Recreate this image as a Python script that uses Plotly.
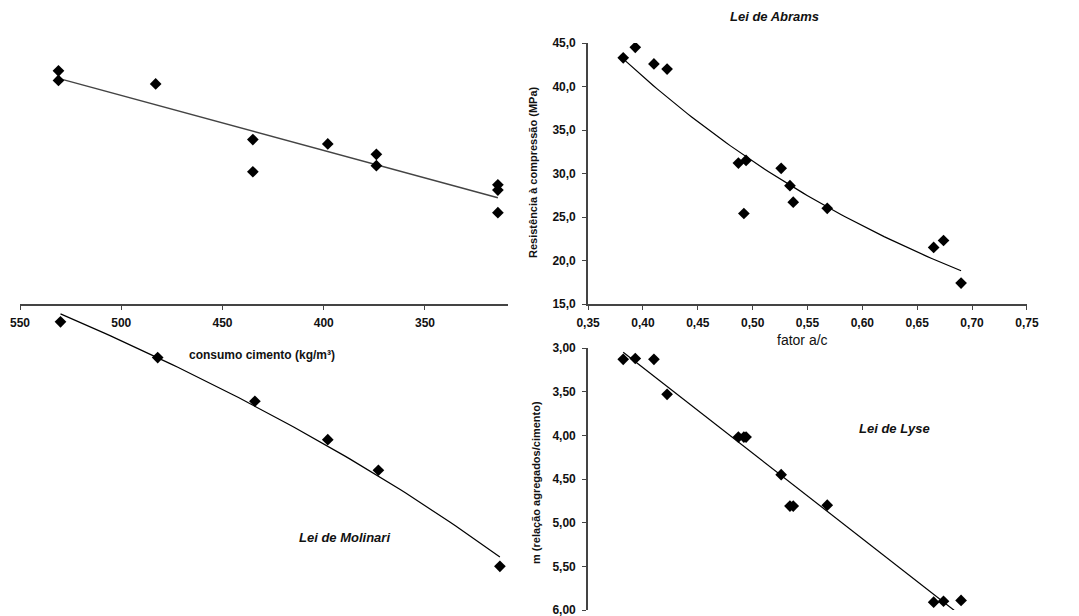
import numpy as np
import plotly.graph_objects as go

# ---------------- data ----------------
fator_ac = [0.382, 0.393, 0.410, 0.422, 0.487, 0.492, 0.494, 0.526, 0.534, 0.537, 0.568, 0.665, 0.674, 0.690]
resistencia_abrams = [43.3, 44.5, 42.6, 42.0, 31.2, 25.4, 31.5, 30.6, 28.6, 26.7, 26.0, 21.5, 22.3, 17.4]
m_lyse = [3.13, 3.12, 3.13, 3.53, 4.02, 4.02, 4.02, 4.45, 4.81, 4.81, 4.80, 5.91, 5.90, 5.89]

consumo_res = [531, 531, 483, 435, 435, 398, 374, 374, 314, 314, 314]
resistencia_consumo = [41.8, 40.7, 40.3, 33.9, 30.2, 33.4, 32.2, 30.9, 28.7, 28.1, 25.5]

consumo_molinari = [530, 482, 434, 398, 373, 313]
m_molinari = [2.70, 3.11, 3.61, 4.05, 4.40, 5.50]

# ---------------- trend lines (regressions on the data) ----------------
ac = np.array(fator_ac)
b_ab, a_ab = np.polyfit(ac, np.log(resistencia_abrams), 1)
ac_line = np.linspace(ac.min(), ac.max(), 80)
fc_line = np.exp(a_ab + b_ab * ac_line)

b_ly, a_ly = np.polyfit(ac, np.array(m_lyse), 1)
m_ly_line = a_ly + b_ly * ac_line

c_res = np.array(consumo_res, dtype=float)
b_cr, a_cr = np.polyfit(c_res, np.array(resistencia_consumo), 1)
c_res_line = np.linspace(c_res.min(), c_res.max(), 40)
fc_c_line = a_cr + b_cr * c_res_line

c_mol = np.array(consumo_molinari, dtype=float)
b_mo, a_mo = np.polyfit(np.log(c_mol), np.array(m_molinari), 1)
c_mol_line = np.linspace(c_mol.min(), c_mol.max(), 80)
m_mo_line = a_mo + b_mo * np.log(c_mol_line)

# ---------------- layout helpers ----------------
W, H = 1079, 616
def fx(px):
    return px / W
def fy(py):
    return 1 - py / H

FONT = "Liberation Sans, Arial, sans-serif"
tickfont = dict(family=FONT, size=12, color="#111", weight="bold")
marker = dict(symbol="diamond", size=9, color="black")

fig = go.Figure()

# top-left: resistência x consumo
fig.add_trace(go.Scatter(x=c_res_line, y=fc_c_line, mode="lines",
                         line=dict(color="#444", width=1.5), xaxis="x", yaxis="y", showlegend=False))
fig.add_trace(go.Scatter(x=consumo_res, y=resistencia_consumo, mode="markers",
                         marker=marker, xaxis="x", yaxis="y", showlegend=False))

# top-right: Lei de Abrams
fig.add_trace(go.Scatter(x=ac_line, y=fc_line, mode="lines",
                         line=dict(color="black", width=1.2), xaxis="x2", yaxis="y", showlegend=False))
fig.add_trace(go.Scatter(x=fator_ac, y=resistencia_abrams, mode="markers",
                         marker=marker, xaxis="x2", yaxis="y", showlegend=False))

# bottom-right: Lei de Lyse
fig.add_trace(go.Scatter(x=ac_line, y=m_ly_line, mode="lines",
                         line=dict(color="black", width=1.2), xaxis="x2", yaxis="y2", showlegend=False))
fig.add_trace(go.Scatter(x=fator_ac, y=m_lyse, mode="markers",
                         marker=marker, xaxis="x2", yaxis="y2", showlegend=False))

# bottom-left: Lei de Molinari
fig.add_trace(go.Scatter(x=c_mol_line, y=m_mo_line, mode="lines",
                         line=dict(color="black", width=1.2), xaxis="x", yaxis="y3", showlegend=False))
fig.add_trace(go.Scatter(x=consumo_molinari, y=m_molinari, mode="markers",
                         marker=marker, xaxis="x", yaxis="y3", showlegend=False))

axis_common = dict(showgrid=False, zeroline=False, showline=True, linecolor="#444", linewidth=1.6,
                   ticks="outside", ticklen=4, tickcolor="#444", tickfont=tickfont, automargin=False,
                   ticklabeloverflow="allow")

px_per_m = (610 - 348) / 3.0

fig.update_layout(
    width=W, height=H,
    margin=dict(l=0, r=0, t=0, b=0),
    paper_bgcolor="white", plot_bgcolor="white",
    separators=",.",
    xaxis=dict(domain=[fx(20), fx(508)], range=[550, 309], anchor="y", dtick=50,
               tickformat="d", ticklabelstandoff=3, **axis_common),
    xaxis2=dict(domain=[fx(588), fx(1027)], range=[0.3499, 0.7501], anchor="y", dtick=0.05,
                tickformat=".2f", ticklabelstandoff=3, **axis_common),
    yaxis=dict(domain=[fy(304), fy(43)], range=[15, 45], anchor="x2", dtick=5,
               tickformat=".1f", ticklabelstandoff=4, **axis_common),
    yaxis2=dict(domain=[fy(610), fy(348)], range=[6, 3], anchor="x2", dtick=0.5,
                tickformat=".2f", ticklabelstandoff=4, **axis_common),
    yaxis3=dict(domain=[fy(610), fy(313)], range=[6, 6 - (610 - 313) / px_per_m],
                anchor="x", visible=False, automargin=False),
)

def ann(text, px, py, size, bold=False, italic=False, angle=0):
    t = text
    if bold:
        t = "<b>" + t + "</b>"
    if italic:
        t = "<i>" + t + "</i>"
    fig.add_annotation(x=fx(px), y=fy(py), xref="paper", yref="paper", text=t, showarrow=False,
                       textangle=angle, xanchor="center", yanchor="middle",
                       font=dict(family=FONT, size=size, color="#111"))

ann("Resistência à compressão (MPa)", 533, 172, 11, bold=True, angle=-90)
ann("m (relação agregados/cimento)", 536, 483, 11, bold=True, angle=-90)
ann("fator a/c", 802, 340, 14)
ann("consumo cimento (kg/m³)", 262, 355, 12, bold=True)
ann("Lei de Abrams", 774, 16, 13, bold=True, italic=True)
ann("Lei de Lyse", 894, 428, 13, bold=True, italic=True)
ann("Lei de Molinari", 344, 537, 13, bold=True, italic=True)

fig.write_html("out.html", config={"displayModeBar": False},
               post_script="document.body.style.margin='0px';document.body.style.overflow='hidden';")
